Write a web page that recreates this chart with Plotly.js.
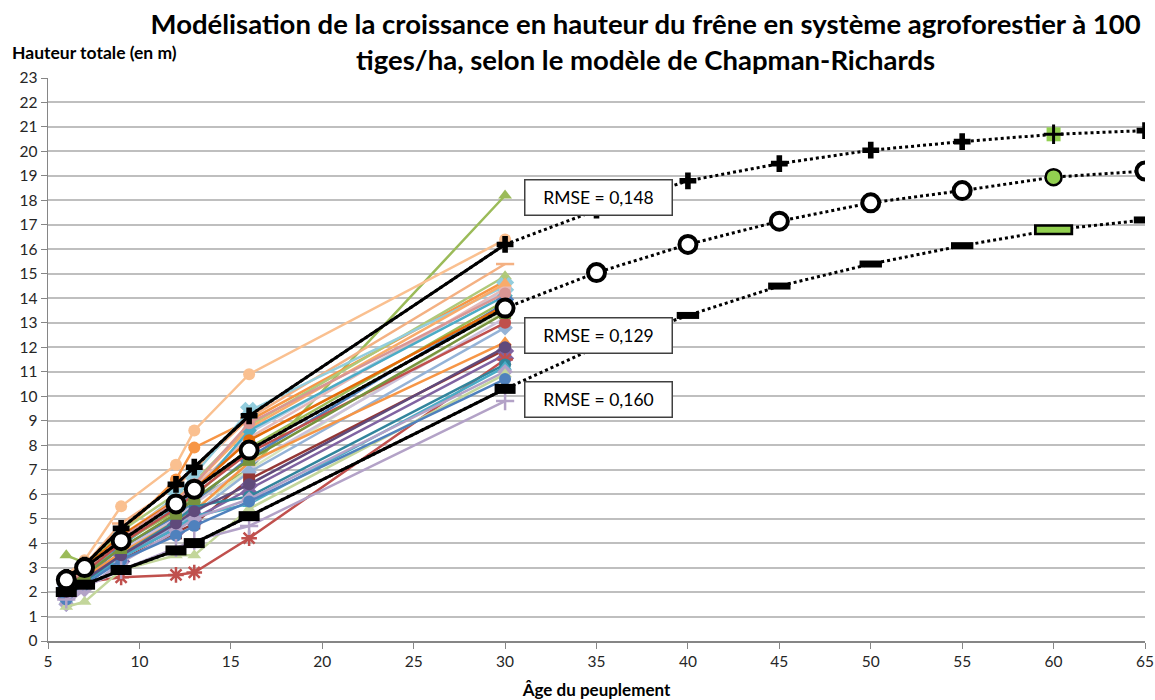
<!DOCTYPE html>
<html>
<head>
<meta charset="utf-8">
<script src="https://cdn.plot.ly/plotly-3.0.1.min.js"></script>
<style>
html,body{margin:0;padding:0;background:#fff;}
#chart{width:1155px;height:700px;}
</style>
</head>
<body>
<div id="chart"></div>
<script>
// Observed ages (years)
const ages = [6, 7, 9, 12, 13, 16, 30];

// Individual tree series (height in m at each age)
const treeNames = ["A1","A2","A3","A4","A5","A6","A7","A8","A9","A10","A11","A12","A13","A14","A15","A16","A17","A18","A19","A20","A21","A22","A23","A24","A25","A26","A27","A28","A29","A30"];
const treeColors = ["#9BBB59","#FAC090","#F4B183","#F79646","#AFC97A","#93CDDD","#B9CDE5","#E6B9B8","#F9AB6B","#4BACC6","#9BBB59","#4F81BD","#D7E4BD","#CCC1DA","#95B3D7","#F79646","#953735","#8064A2","#C0504D","#31859C","#4BACC6","#B3A2C7","#C3D69B","#4F81BD","#B3A2C7","#604A7B","#C0504D","#E46C0A","#77933C","#D99694"];
const treeSymbols = ["triangle-up","circle","line-ew","circle","triangle-up","x","square","circle","triangle-up","diamond","square","x","square","circle","diamond","triangle-up","square","x","asterisk","circle","triangle-up","diamond","triangle-up","circle","cross-thin","circle","circle","circle","square","circle"];
const h01 = [3.5, 3.2, 4.3, 5.3, 5.8, 7.0, 18.2];
const h02 = [2.7, 3.3, 5.5, 7.2, 8.6, 10.9, 16.4];
const h03 = [2.6, 3.1, 4.8, 6.3, 7.0, 9.1, 15.4];
const h04 = [2.5, 3.0, 4.4, 6.6, 7.9, 9.0, 14.7];
const h05 = [2.4, 3.0, 4.5, 6.0, 6.5, 8.8, 14.9];
const h06 = [2.3, 2.9, 4.2, 5.9, 6.8, 9.4, 14.5];
const h07 = [2.1, 2.7, 4.0, 5.4, 6.1, 8.5, 14.3];
const h08 = [2.2, 2.8, 4.1, 5.6, 6.3, 8.3, 14.4];
const h09 = [2.3, 2.9, 4.3, 5.8, 6.4, 8.7, 14.6];
const h10 = [2.0, 2.7, 3.9, 5.5, 6.0, 8.6, 14.1];
const h11 = [2.2, 2.8, 4.0, 5.3, 5.9, 7.9, 13.9];
const h12 = [2.1, 2.6, 3.8, 5.1, 5.7, 7.5, 13.8];
const h13 = [1.9, 2.5, 3.6, 4.8, 5.4, 7.0, 13.5];
const h14 = [1.8, 2.4, 3.7, 5.0, 5.6, 7.2, 13.2];
const h15 = [1.5, 2.2, 3.5, 4.7, 5.2, 6.9, 12.8];
const h16 = [2.1, 2.6, 3.6, 4.9, 5.3, 7.3, 12.2];
const h17 = [2.0, 2.5, 3.3, 4.4, 4.8, 6.6, 11.9];
const h18 = [1.9, 2.4, 3.4, 4.6, 5.0, 6.2, 11.7];
const h19 = [2.1, 2.4, 2.6, 2.7, 2.8, 4.2, 11.5];
const h20 = [1.8, 2.4, 3.5, 4.9, 5.5, 5.9, 11.3];
const h21 = [1.7, 2.3, 3.4, 4.6, 5.1, 5.6, 11.2];
const h22 = [1.5, 2.1, 3.2, 4.5, 5.0, 5.8, 11.0];
const h23 = [1.4, 1.6, 2.9, 3.5, 3.5, 5.4, 10.9];
const h24 = [1.7, 2.3, 3.3, 4.3, 4.7, 5.7, 10.7];
const h25 = [1.7, 2.2, 2.9, 3.8, 4.1, 4.7, 9.8];
const h26 = [2.0, 2.5, 3.5, 4.8, 5.3, 6.4, 12.0];
const h27 = [2.3, 2.8, 4.0, 5.4, 6.0, 7.7, 13.0];
const h28 = [2.4, 3.0, 4.3, 5.7, 6.2, 8.2, 13.7];
const h29 = [2.2, 2.7, 3.8, 5.2, 5.8, 7.4, 13.4];
const h30 = [2.3, 2.9, 4.2, 5.7, 6.4, 8.9, 14.2];
const treeHeights = [h01,h02,h03,h04,h05,h06,h07,h08,h09,h10,h11,h12,h13,h14,h15,h16,h17,h18,h19,h20,h21,h22,h23,h24,h25,h26,h27,h28,h29,h30];

// Chapman-Richards model curves
const modelAges = [6, 7, 9, 12, 13, 16, 30, 35, 40, 45, 50, 55, 60, 65];
const modelHigh = [2.6, 3.1, 4.6, 6.4, 7.1, 9.2, 16.2, 17.6, 18.8, 19.5, 20.05, 20.4, 20.7, 20.85];
const modelMid  = [2.5, 3.0, 4.1, 5.6, 6.2, 7.8, 13.6, 15.05, 16.2, 17.15, 17.9, 18.4, 18.95, 19.2];
const modelLow  = [2.0, 2.3, 2.9, 3.7, 4.0, 5.1, 10.3, 12.0, 13.3, 14.5, 15.4, 16.15, 16.8, 17.2];
const highlightAge = 60;
const rmseLabels = ["RMSE = 0,148", "RMSE = 0,129", "RMSE = 0,160"];

const xTickVals = [5,10,15,20,25,30,35,40,45,50,55,60,65];
const yTickVals = Array.from({length:24}, (_, i) => i);

const traces = [];
treeHeights.forEach((hs, i) => {
  const thin = ['asterisk','cross-thin','line-ew','x'].includes(treeSymbols[i]);
  traces.push({
    x: ages, y: hs, type: 'scatter', mode: 'lines+markers', name: treeNames[i],
    line: {color: treeColors[i], width: 2.5},
    marker: {symbol: treeSymbols[i], size: thin ? 13 : 12, color: treeColors[i],
             line: {color: treeColors[i], width: thin ? 2.5 : 0}},
    hoverinfo: 'skip'
  });
});

const nObs = ages.length;
function modelTraces(vals, sym, size, fill, lineW, obsSym, obsSize, obsLineW) {
  const out = [];
  out.push({x: modelAges.slice(0, nObs), y: vals.slice(0, nObs), type: 'scatter', mode: 'lines',
            line: {color: '#000', width: 3}, hoverinfo: 'skip'});
  out.push({x: modelAges, y: vals, type: 'scatter', mode: 'lines',
            line: {color: '#000', width: 3, dash: 'dot'}, hoverinfo: 'skip'});
  const ox = [], oy = [], mx = [], my = [];
  modelAges.forEach((a, i) => {
    if (a === highlightAge) return;
    if (i < nObs) { ox.push(a); oy.push(vals[i]); } else { mx.push(a); my.push(vals[i]); }
  });
  out.push({x: ox, y: oy, type: 'scatter', mode: 'markers',
            marker: {symbol: obsSym || sym, size: obsSize || size, color: fill, line: {color: '#000', width: obsLineW != null ? obsLineW : lineW}}, hoverinfo: 'skip'});
  out.push({x: mx, y: my, type: 'scatter', mode: 'markers',
            marker: {symbol: sym, size: size, color: fill, line: {color: '#000', width: lineW}}, hoverinfo: 'skip'});
  const hi = modelAges.indexOf(highlightAge);
  return {base: out, hx: modelAges[hi], hy: vals[hi]};
}
const mh = modelTraces(modelHigh, 'cross', 14, '#000', 0);
const mm = modelTraces(modelMid, 'circle', 17, '#fff', 4);
const ml = modelTraces(modelLow, 'line-ew', 16, '#000', 7, 'line-ew', 15, 10);
traces.push(...mh.base, ...mm.base, ...ml.base);
traces.push({x:[mh.hx], y:[mh.hy], type:'scatter', mode:'markers',
  marker:{symbol:'square', size:14, color:'#92D050', line:{width:0}}, hoverinfo:'skip'});
traces.push({x:[mh.hx], y:[mh.hy], type:'scatter', mode:'markers',
  marker:{symbol:'cross-thin', size:14, color:'#000', line:{color:'#000', width:3}}, hoverinfo:'skip'});
traces.push({x:[mm.hx], y:[mm.hy], type:'scatter', mode:'markers',
  marker:{symbol:'circle', size:16, color:'#92D050', line:{color:'#000', width:2.5}}, hoverinfo:'skip'});
traces.push({x:[ml.hx], y:[ml.hy], type:'scatter', mode:'markers',
  marker:{symbol:'line-ew', size:28, color:'#000', line:{color:'#000', width:11}}, hoverinfo:'skip'});
traces.push({x:[ml.hx], y:[ml.hy], type:'scatter', mode:'markers',
  marker:{symbol:'line-ew', size:24, color:'#92D050', line:{color:'#92D050', width:6}}, hoverinfo:'skip'});

const fontFam = 'Lato, "Open Sans", sans-serif';
const rmseY = [modelHigh[7] + 0.5, modelMid[7] - 2.55, modelLow[7] - 2.15];
const annotations = rmseLabels.map((t, i) => ({
  x: 35.1, y: rmseY[i], xref: 'x', yref: 'y', text: t, showarrow: false,
  font: {family: fontFam, size: 17.5, color: '#000'}, bgcolor: '#fff',
  bordercolor: '#404040', borderwidth: 1.5, borderpad: 4, width: 138, height: 26
}));
annotations.push({
  text: '<b>Hauteur totale (en m)</b>', xref: 'paper', yref: 'paper', x: -0.035, y: 1.046,
  xanchor: 'left', yanchor: 'middle', showarrow: false,
  font: {family: fontFam, size: 17.5, color: '#000'}
});

const layout = {
  width: 1155, height: 700,
  margin: {l: 48, r: 10, t: 78, b: 59},
  paper_bgcolor: '#fff', plot_bgcolor: '#fff',
  showlegend: false,
  title: {text: '<b>Modélisation de la croissance en hauteur du frêne en système agroforestier à 100<br>tiges/ha, selon le modèle de Chapman-Richards</b>',
          font: {family: fontFam, size: 27.5, color: '#000'}, x: 0.559, xanchor: 'center', y: 0.951, yanchor: 'middle'},
  xaxis: {range: [5, 65], tickvals: xTickVals, showgrid: false, zeroline: false,
          showline: true, linecolor: '#868686', linewidth: 1.5, ticks: 'outside', ticklen: 6, tickcolor: '#868686',
          tickfont: {family: fontFam, size: 15.5, color: '#262626'},
          title: {text: '<b>Âge du peuplement</b>', font: {family: fontFam, size: 17, color: '#000'}, standoff: 15}},
  yaxis: {range: [0, 23], tickvals: yTickVals, showgrid: true, gridcolor: '#BFBFBF', gridwidth: 2, zeroline: false,
          showline: true, linecolor: '#868686', linewidth: 1.5, ticks: 'outside', ticklen: 6, tickcolor: '#868686',
          tickfont: {family: fontFam, size: 15.5, color: '#262626'}},
  annotations: annotations
};
Plotly.newPlot('chart', traces, layout, {displayModeBar: false, staticPlot: true});
</script>
</body>
</html>
